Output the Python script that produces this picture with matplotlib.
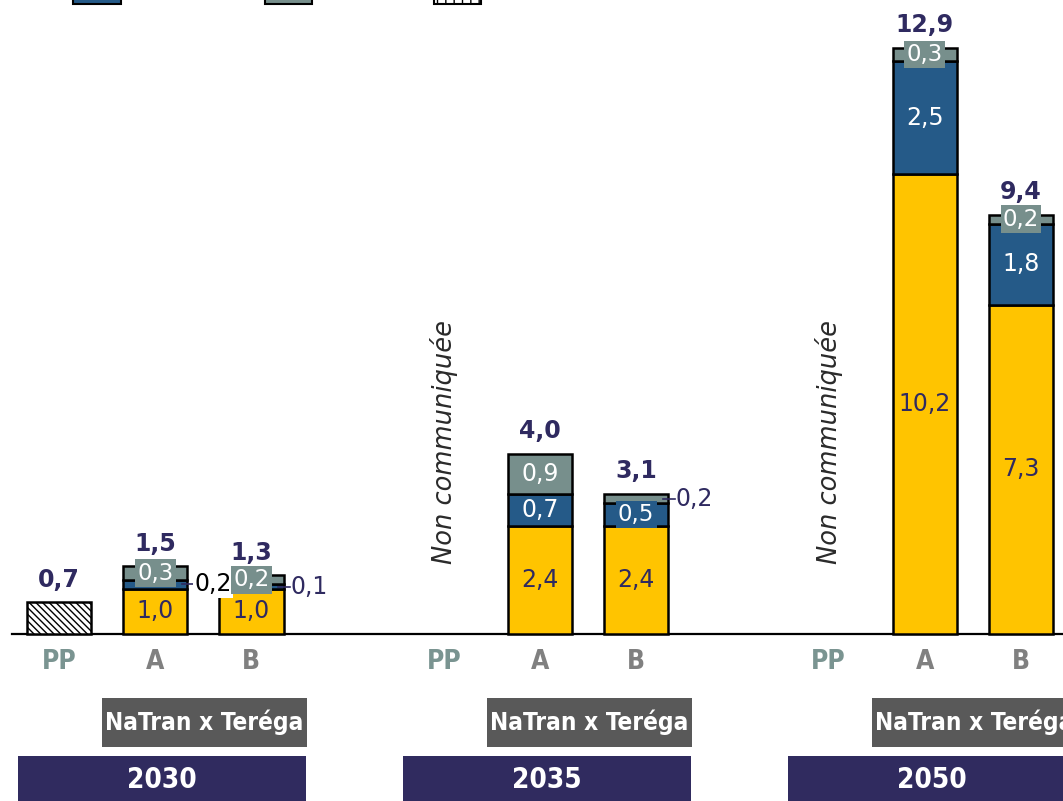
import matplotlib
matplotlib.use('Agg')
import matplotlib.pyplot as plt
from matplotlib.patches import Rectangle

# ---------------- data ----------------
years = ['2030', '2035', '2050']
scenarios = ['PP', 'A', 'B']
group_label = 'NaTran x Teréga'
pp_note = 'Non communiquée'

pp_total = [0.7, None, None]

a_yellow = [1.0, 2.4, 10.2]
a_blue = [0.2, 0.7, 2.5]
a_gray = [0.3, 0.9, 0.3]
a_total = [1.5, 4.0, 12.9]

b_yellow = [1.0, 2.4, 7.3]
b_blue = [0.1, 0.5, 1.8]
b_gray = [0.2, 0.2, 0.2]
b_total = [1.3, 3.1, 9.4]

# label placement style per segment (yellow, blue, gray)
a_modes = [('in', 'side_k', 'box'), ('in', 'in', 'in'), ('in', 'in', 'box')]
b_modes = [('in', 'side', 'box'), ('in', 'box', 'side'), ('in', 'in', 'box')]

# ---------------- style ----------------
YELLOW = '#FFC400'
BLUE = '#255A88'
GRAY = '#778F8C'
NAVY = '#2F2A60'
BOXGRAY = '#595959'
YEARBOX = '#302B5F'
PPCOL = '#7A9491'
ABCOL = '#808080'

def fmt(v):
    return f"{v:.1f}".replace('.', ',')

fig = plt.figure(figsize=(10.63, 8.01), dpi=100)
ax = fig.add_axes([0, 0, 1, 1])
ax.axis('off')
ax.set_xlim(-0.613, 10.437)
ax.set_ylim(-3.703, 14.058)

W = 0.67
TOTAL_GAP = 0.24

ax.plot([-0.49, 10.5], [0, 0], color='black', lw=1.6, zorder=1, clip_on=False)

def seg_label(x, bottom, h, color, mode, txtcolor):
    yc = bottom + h / 2
    if mode == 'in':
        ax.text(x, yc, fmt(h), ha='center', va='center', fontsize=17,
                color=txtcolor, zorder=5)
    elif mode == 'box':
        ax.text(x, yc, fmt(h), ha='center', va='center', fontsize=16.5,
                color='white', zorder=6,
                bbox=dict(boxstyle='square,pad=0.1', fc=color, ec='none'))
    else:
        xr = x + W / 2
        tc = 'black' if mode == 'side_k' else NAVY
        ax.plot([xr - 0.06, xr + 0.07], [yc, yc], color=NAVY, lw=1.2, zorder=6)
        kw = {}
        if mode == 'side_k':
            kw['bbox'] = dict(boxstyle='square,pad=0.05', fc='white', ec='none')
        ax.text(xr + 0.07, yc, fmt(h), ha='left', va='center', fontsize=17,
                color=tc, zorder=6, **kw)

for g, yr in enumerate(years):
    x0 = 4 * g
    # PP
    if pp_total[g] is not None:
        ax.bar(x0, pp_total[g], width=W, color='white', edgecolor='black',
               hatch='\\\\\\\\\\', linewidth=1.8, zorder=3)
        ax.text(x0, pp_total[g] + TOTAL_GAP, fmt(pp_total[g]), ha='center', va='bottom',
                fontsize=17, fontweight='bold', color=NAVY, zorder=5)
    else:
        ax.text(x0, 4.26, pp_note, rotation=90, ha='center', va='center',
                fontsize=18.5, fontstyle='italic', color='#2A2A2A', zorder=5)
    # A and B
    for i, (ys, bs, gs, ts, modes) in enumerate([
            (a_yellow, a_blue, a_gray, a_total, a_modes),
            (b_yellow, b_blue, b_gray, b_total, b_modes)]):
        x = x0 + 1 + i
        yv, bv, gv = ys[g], bs[g], gs[g]
        ax.bar(x, yv, width=W, color=YELLOW, edgecolor='black', linewidth=1.8, zorder=3)
        ax.bar(x, bv, bottom=yv, width=W, color=BLUE, edgecolor='black', linewidth=1.8, zorder=3)
        ax.bar(x, gv, bottom=yv + bv, width=W, color=GRAY, edgecolor='black', linewidth=1.8, zorder=3)
        m = modes[g]
        seg_label(x, 0, yv, YELLOW, m[0], NAVY)
        seg_label(x, yv, bv, BLUE, m[1], 'white')
        seg_label(x, yv + bv, gv, GRAY, m[2], 'white')
        top = yv + bv + gv
        ax.text(x, top + TOTAL_GAP, fmt(ts[g]), ha='center', va='bottom',
                fontsize=17, fontweight='bold', color=NAVY, zorder=7)
    # category labels
    for i, s in enumerate(scenarios):
        ax.text(x0 + i, -0.62, s, ha='center', va='center', fontsize=19,
                fontweight='bold', fontstretch='condensed',
                color=PPCOL if s == 'PP' else ABCOL)
    # NaTran box
    ax.add_patch(Rectangle((x0 + 0.447, -2.505), 2.13, 1.085, fc=BOXGRAY, ec='none',
                           clip_on=False, zorder=2))
    ax.text(x0 + 0.447 + 1.065, -1.96, group_label, ha='center', va='center',
            fontsize=17.5, fontweight='bold', fontstretch='condensed',
            color='white', zorder=4, clip_on=False)
    # year box
    ax.add_patch(Rectangle((x0 - 0.426, -3.9), 2.994, 1.195, fc=YEARBOX, ec='none',
                           clip_on=False, zorder=2))
    ax.text(x0 + 1.07, -3.24, yr, ha='center', va='center', fontsize=20,
            fontweight='bold', fontstretch='condensed', color='white', zorder=4)

# legend swatches, mostly cut off at the top edge
def px2fig(px, py):
    return px / 1063, 1 - py / 801

for (l, r, fc, hatch) in [(73, 121, BLUE, None), (265, 312, GRAY, None),
                          (434, 481, 'white', '||')]:
    x0f, y0f = px2fig(l, 4)
    x1f, _ = px2fig(r, 4)
    fig.add_artist(Rectangle((x0f, y0f), x1f - x0f, 0.05, transform=fig.transFigure,
                             fc=fc, ec='black', lw=1.5, hatch=hatch))

fig.savefig('out.png', dpi=100)
